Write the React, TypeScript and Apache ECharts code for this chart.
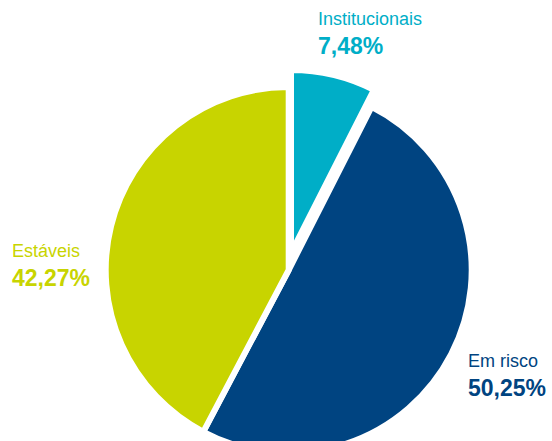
import React, { useEffect, useRef } from "react";
import * as echarts from "echarts";

const categories = ["Institucionais", "Em risco", "Estáveis"];
const values = [7.48, 50.25, 42.27];
const colors = ["#00AEC7", "#004481", "#C8D400"];
const labelPos = [
  [318, 5],
  [468, 347],
  [12, 237],
];

const fmt = (v: number) => v.toFixed(2).replace(".", ",") + "%";

export default function App() {
  const ref = useRef<HTMLDivElement>(null);
  useEffect(() => {
    if (!ref.current) return;
    const chart = echarts.init(ref.current, null, { renderer: "svg" });
    const font = "'Liberation Sans', Arial, sans-serif";
    const makeData = (visibleIdx: number[]) =>
      categories.map((name, i) => {
        const vis = visibleIdx.includes(i);
        return {
          name,
          value: values[i],
          itemStyle: vis
            ? { color: colors[i], borderColor: "#ffffff", borderWidth: 6 }
            : { color: "transparent", borderWidth: 0 },
          label: {
            show: vis,
            color: colors[i],
            overflow: "none",
            rich: {
              n: { fontSize: 18, fontFamily: font, color: colors[i], lineHeight: 27 },
              v: {
                fontSize: 23,
                fontWeight: "bold",
                fontFamily: font,
                color: colors[i],
                lineHeight: 27,
              },
            },
          },
        };
      });
    const common = {
      type: "pie",
      radius: 183,
      startAngle: 90,
      clockwise: true,
      silent: true,
      labelLine: { show: false },
      label: {
        position: "outside",
        overflow: "none",
        edgeDistance: 0,
        formatter: (p: any) => `{n|${p.name}}\n{v|${fmt(p.value)}}`,
        align: "left",
      },
      labelLayout: (p: any) => ({
        x: labelPos[p.dataIndex][0],
        y: labelPos[p.dataIndex][1],
        align: "left",
        verticalAlign: "top",
      }),
    };
    chart.setOption({
      animation: false,
      series: [
        { ...common, center: [288.7, 270], data: makeData([1, 2]) },
        { ...common, center: [291, 253], data: makeData([0]) },
      ],
    });
    return () => chart.dispose();
  }, []);
  return (
    <div
      ref={ref}
      style={{ position: "absolute", left: 0, top: 0, width: 552, height: 441 }}
    />
  );
}
